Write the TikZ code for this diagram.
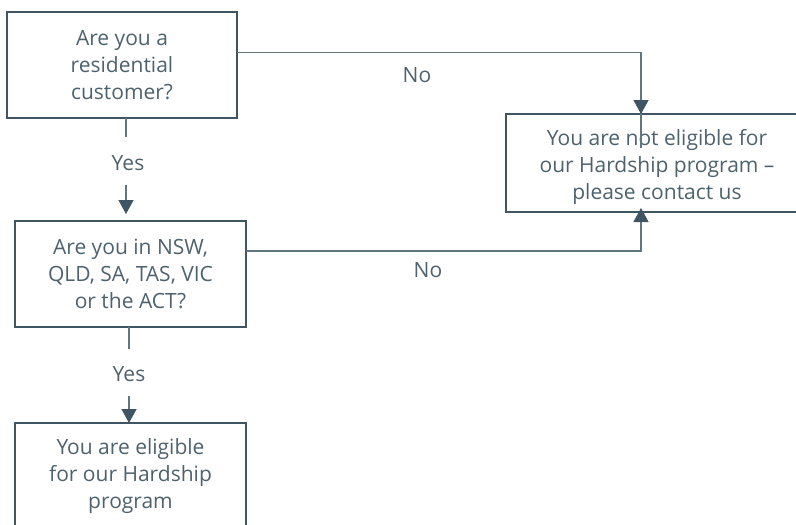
\documentclass[tikz,border=0pt]{standalone}
\usepackage{fontspec}
\setmainfont{Open Sans}
\usetikzlibrary{arrows.meta,calc}
\definecolor{boxc}{HTML}{3F5562}
\definecolor{linec}{HTML}{62767F}
\definecolor{txtc}{HTML}{4D626D}
\begin{document}
\begin{tikzpicture}[x=1pt,y=-1pt,
  qbox/.style={draw=boxc,line width=2.4pt,minimum width=#1,inner sep=0pt,text=txtc,align=center,
    font=\fontsize{21}{27}\selectfont},
  conn/.style={draw=linec,line width=1.3pt},
  tip/.style={-{Triangle[width=15pt,length=14pt,color=boxc]}},
  lbl/.style={text=txtc,font=\fontsize{21}{24}\selectfont,inner sep=0pt}]
\useasboundingbox (0,0) rectangle (796,525);
\clip (0,0) rectangle (796,525);
\node[qbox=230pt,minimum height=106pt] (b1) at (122,65) {Are you a\\residential\\customer?};
\node[qbox=231pt,minimum height=106pt] (b2) at (130.5,274) {Are you in NSW,\\QLD, SA, TAS, VIC\\or the ACT?};
\node[qbox=231pt,minimum height=106pt] (b3) at (130.5,476) {You are eligible\\for our Hardship\\program};
\node[qbox=306pt,minimum height=98pt] (r) at (659,163) {};
\node[text=txtc,align=center,inner sep=0pt,font=\fontsize{21}{27}\selectfont] (rt) at (657,167) {You are not eligible for\\our Hardship program --\\please contact us};
\coordinate (c1) at (237,52.5);
\coordinate (c1r) at (641,114);
\coordinate (c1i) at (641,148);
\coordinate (c2) at (246,251);
\coordinate (c2r) at (641,208);
\node[lbl] (no1) at (417,75) {No};
\node[lbl] (no2) at (428,270) {No};
\node[lbl] (y1) at (128,163) {Yes};
\node[lbl] (y2) at (129,374) {Yes};
\coordinate (a1s) at (126,118);
\coordinate (a1e) at (126,137);
\coordinate (a1b) at (126,185);
\coordinate (a1t) at (126,214);
\coordinate (a2s) at (129,327);
\coordinate (a2e) at (129,349);
\coordinate (a2b) at (129,396);
\coordinate (a2t) at (129,423);
\draw[conn] (c1) -| (c1i);
\draw[conn,tip] (c1r |- 0,90) -- (c1r);
\draw[conn,tip] (c2) -| (c2r);
\draw[conn] (a1s) -- (a1e);
\draw[conn,tip] (a1b) -- (a1t);
\draw[conn] (a2s) -- (a2e);
\draw[conn,tip] (a2b) -- (a2t);
\end{tikzpicture}
\end{document}
